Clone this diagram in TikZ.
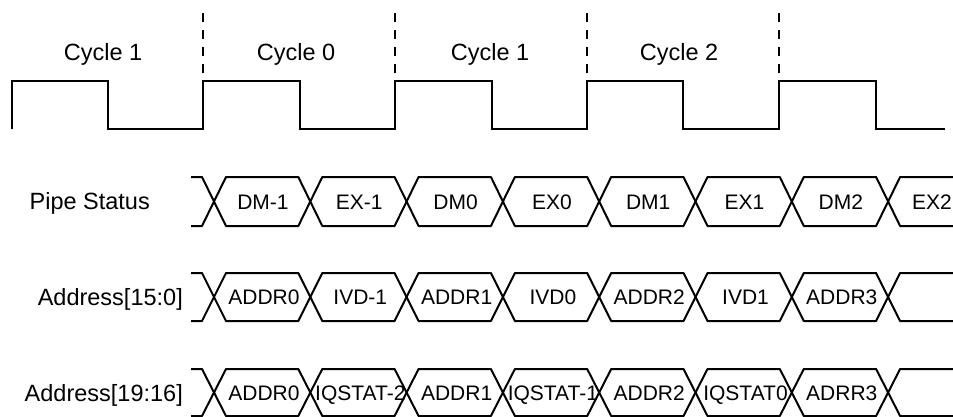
\documentclass[tikz,border=0pt]{standalone}
\usepackage{fontspec}
\setmainfont{Liberation Sans}
\begin{document}
\begin{tikzpicture}[x=1pt,y=-1pt,
  sig/.style={line width=2pt, line join=miter, line cap=butt},
  bus/.style={line width=2pt, line join=round},
  gridline/.style={line width=1.2pt, dash pattern=on 9pt off 8pt},
  lbl/.style={font=\fontsize{23.5}{28}\selectfont, inner sep=0pt, text height=16.8pt, text depth=0pt},
  dat/.style={font=\fontsize{21}{25}\selectfont, inner sep=0pt, text height=15pt, text depth=0pt}]
\useasboundingbox (0,0) rectangle (953,417);

% clock
\draw[sig] (12,129) -- (12,81) -- (108,81) -- (108,129) -- (203,129) -- (203,81)
  -- (300,81) -- (300,129) -- (395,129) -- (395,81) -- (492,81) -- (492,129)
  -- (587,129) -- (587,81) -- (683,81) -- (683,129) -- (779,129) -- (779,81)
  -- (876,81) -- (876,129) -- (945,129);

% cycle boundaries
\foreach \x in {203,395,587,779} \draw[gridline] (\x,13) -- (\x,81);

% cycle labels
\node[lbl] (cyA) at (103,52) {Cycle 1};
\node[lbl] (cyB) at (296,52) {Cycle 0};
\node[lbl] (cyC) at (490,52) {Cycle 1};
\node[lbl] (cyD) at (679,52) {Cycle 2};

% row labels
\node[lbl, anchor=east] (ps)  at (150,201) {Pipe Status};
\node[lbl, anchor=east] (a15) at (183,297) {Address[15:0]};
\node[lbl, anchor=east] (a19) at (183,393) {Address[19:16]};

% buses
\foreach \T/\B in {177/226, 273/321, 369/416}{
  \pgfmathsetmacro{\M}{(\T+\B)/2}
  \draw[bus] (191,\T) -- (202,\T) -- (214,\M) -- (202,\B) -- (191,\B);
  \foreach \k in {0,...,6}{
    \pgfmathsetmacro{\ca}{214+96.3*\k}
    \pgfmathsetmacro{\cb}{214+96.3*(\k+1)}
    \draw[bus] (\ca,\M) -- (\ca+12,\T) -- (\cb-12,\T) -- (\cb,\M) -- (\cb-12,\B) -- (\ca+12,\B) -- cycle;
  }
  \draw[bus] (953,\T) -- (900.1,\T) -- (888.1,\M) -- (900.1,\B) -- (953,\B);
}

% pipe status labels
\foreach \t [count=\i from 0] in {DM-1,EX-1,DM0,EX0,DM1,EX1,DM2}
  \node[dat] (ps\i) at (263+96.3*\i,201.5) {\t};
\node[dat, anchor=east] (ps7) at (952,201.5) {EX2};

% address 15:0 labels
\foreach \t [count=\i from 0] in {ADDR0,IVD-1,ADDR1,IVD0,ADDR2,IVD1,ADDR3}
  \node[dat] (aa\i) at (264+96.3*\i,297) {\t};

% address 19:16 labels
\foreach \t [count=\i from 0] in {ADDR0,IQSTAT-2,ADDR1,IQSTAT-1,ADDR2,IQSTAT0,ADRR3}
  \node[dat] (ab\i) at (264+96.3*\i,392.5) {\t};
\end{tikzpicture}
\end{document}
